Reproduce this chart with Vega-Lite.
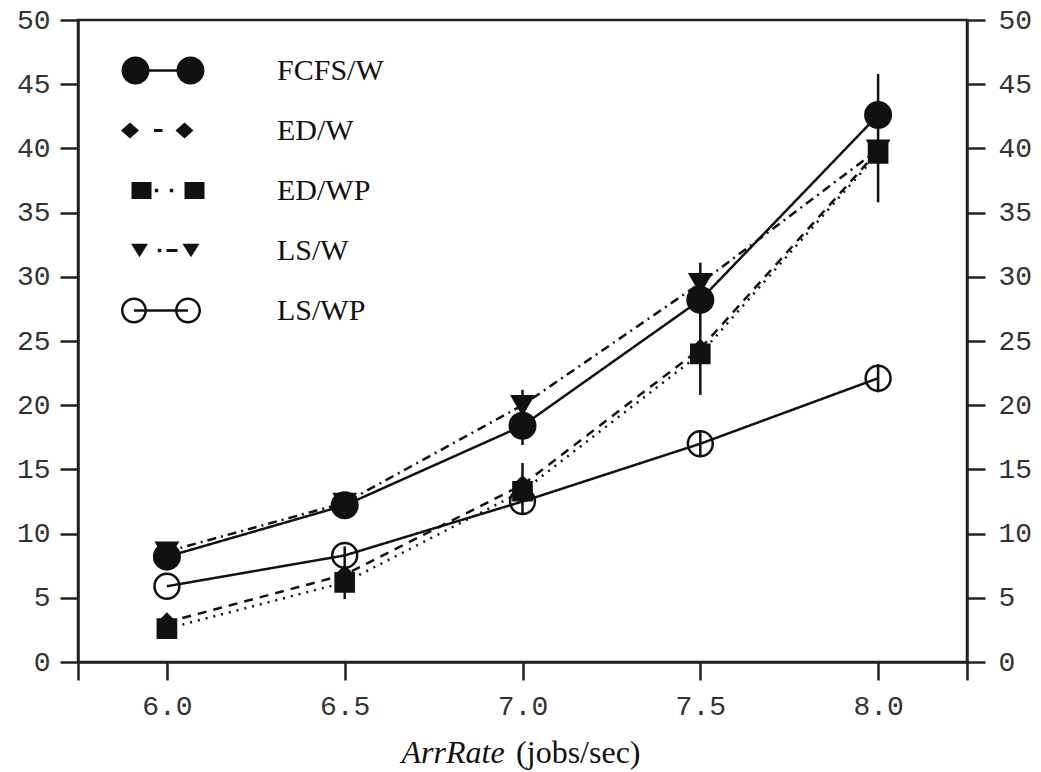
{
  "$schema": "https://vega.github.io/schema/vega-lite/v6.json",
  "width": 889,
  "height": 642,
  "autosize": {"type": "none"},
  "padding": {"left": 78, "top": 20, "right": 74, "bottom": 110},
  "background": "white",
  "config": {
    "view": {"stroke": "#222", "strokeWidth": 2.5},
    "axis": {
      "grid": false,
      "domainColor": "#222",
      "domainWidth": 2.5,
      "tickColor": "#222",
      "tickWidth": 2.5,
      "tickSize": 18,
      "labelFont": "Liberation Mono",
      "labelFontSize": 28,
      "labelColor": "#333"
    }
  },
  "datasets": {
    "pts": [
      {"series": "LS/W", "rate": 6.0, "delay": 8.6},
      {"series": "LS/W", "rate": 6.5, "delay": 12.4},
      {"series": "LS/W", "rate": 7.0, "delay": 20.0},
      {"series": "LS/W", "rate": 7.5, "delay": 29.5},
      {"series": "LS/W", "rate": 8.0, "delay": 39.9},
      {"series": "FCFS/W", "rate": 6.0, "delay": 8.2},
      {"series": "FCFS/W", "rate": 6.5, "delay": 12.2},
      {"series": "FCFS/W", "rate": 7.0, "delay": 18.4},
      {"series": "FCFS/W", "rate": 7.5, "delay": 28.2},
      {"series": "FCFS/W", "rate": 8.0, "delay": 42.6},
      {"series": "ED/W", "rate": 6.0, "delay": 3.1},
      {"series": "ED/W", "rate": 6.5, "delay": 6.8},
      {"series": "ED/W", "rate": 7.0, "delay": 13.8},
      {"series": "ED/W", "rate": 7.5, "delay": 24.4},
      {"series": "ED/W", "rate": 8.0, "delay": 39.8},
      {"series": "ED/WP", "rate": 6.0, "delay": 2.6},
      {"series": "ED/WP", "rate": 6.5, "delay": 6.2},
      {"series": "ED/WP", "rate": 7.0, "delay": 13.3},
      {"series": "ED/WP", "rate": 7.5, "delay": 24.0},
      {"series": "ED/WP", "rate": 8.0, "delay": 39.6},
      {"series": "LS/WP", "rate": 6.0, "delay": 5.9},
      {"series": "LS/WP", "rate": 6.5, "delay": 8.3},
      {"series": "LS/WP", "rate": 7.0, "delay": 12.5},
      {"series": "LS/WP", "rate": 7.5, "delay": 17.0},
      {"series": "LS/WP", "rate": 8.0, "delay": 22.1}
    ],
    "errs": [
      {"rate": 6.5, "lo": 4.9, "hi": 9.0},
      {"rate": 7.0, "lo": 16.9, "hi": 21.2},
      {"rate": 7.0, "lo": 11.6, "hi": 15.5},
      {"rate": 7.5, "lo": 20.8, "hi": 31.1},
      {"rate": 7.5, "lo": 16.0, "hi": 18.0},
      {"rate": 8.0, "lo": 35.8, "hi": 45.8},
      {"rate": 8.0, "lo": 21.0, "hi": 23.2}
    ]
  },
  "layer": [
    {
      "data": {"name": "errs"},
      "mark": {"type": "rule", "color": "#111", "strokeWidth": 2.5},
      "encoding": {
        "x": {
          "field": "rate", "type": "quantitative",
          "scale": {"domain": [5.75, 8.25], "nice": false, "zero": false},
          "axis": {
            "values": [5.75, 6, 6.5, 7, 7.5, 8, 8.25],
            "labelExpr": "datum.value == 5.75 || datum.value == 8.25 ? '' : format(datum.value, '.1f')",
            "labelPadding": 12,
            "title": "ArrRate",
            "titleFont": "Liberation Serif",
            "titleFontStyle": "italic",
            "titleFontWeight": "normal",
            "titleFontSize": 32,
            "titleColor": "#111",
            "titleAlign": "left",
            "titleAnchor": "start",
            "titleBaseline": "alphabetic",
            "titleAngle": 0,
            "titleX": 323,
            "titleY": 100
          }
        },
        "y": {
          "field": "lo", "type": "quantitative",
          "scale": {"domain": [0, 50], "nice": false, "zero": true},
          "axis": {
            "orient": "left",
            "values": [0, 5, 10, 15, 20, 25, 30, 35, 40, 45, 50],
            "labelPadding": 10,
            "title": null
          }
        },
        "y2": {"field": "hi"}
      }
    },
    {
      "data": {"name": "pts"},
      "mark": {"type": "line", "color": "#111", "strokeWidth": 2.5},
      "encoding": {
        "x": {"field": "rate", "type": "quantitative", "axis": null},
        "y": {
          "field": "delay", "type": "quantitative",
          "axis": {
            "orient": "right",
            "values": [0, 5, 10, 15, 20, 25, 30, 35, 40, 45, 50],
            "labelPadding": 13,
            "title": null
          }
        },
        "strokeDash": {
          "field": "series", "type": "nominal",
          "scale": {
            "domain": ["FCFS/W", "ED/W", "ED/WP", "LS/W", "LS/WP"],
            "range": [[1, 0], [9, 7], [2, 6], [9, 5, 2, 5], [1, 0]]
          },
          "legend": null
        }
      }
    },
    {
      "data": {"name": "pts"},
      "mark": {"type": "point", "stroke": "#111", "strokeWidth": 2.5, "opacity": 1},
      "encoding": {
        "x": {
          "field": "rate", "type": "quantitative",
          "axis": {
            "orient": "bottom",
            "labels": false,
            "ticks": false,
            "domain": false,
            "title": "(jobs/sec)",
            "titleFont": "Liberation Serif",
            "titleFontStyle": "normal",
            "titleFontWeight": "normal",
            "titleFontSize": 32,
            "titleColor": "#111",
            "titleAlign": "right",
            "titleAnchor": "end",
            "titleBaseline": "alphabetic",
            "titleAngle": 0,
            "titleX": 562,
            "titleY": 100
          }
        },
        "y": {"field": "delay", "type": "quantitative", "axis": null},
        "shape": {
          "field": "series", "type": "nominal",
          "scale": {
            "domain": ["FCFS/W", "ED/W", "ED/WP", "LS/W", "LS/WP"],
            "range": ["circle", "diamond", "square", "triangle-down", "circle"]
          },
          "legend": null
        },
        "fill": {
          "field": "series", "type": "nominal",
          "scale": {
            "domain": ["FCFS/W", "ED/W", "ED/WP", "LS/W", "LS/WP"],
            "range": ["#111", "#111", "#111", "#111", "transparent"]
          },
          "legend": null
        },
        "size": {
          "field": "series", "type": "nominal",
          "scale": {
            "type": "ordinal",
            "domain": ["FCFS/W", "ED/W", "ED/WP", "LS/W", "LS/WP"],
            "range": [650, 260, 330, 420, 620]
          },
          "legend": null
        }
      }
    },
    {
      "data": {"name": "pts"},
      "mark": {"type": "point", "filled": true, "color": "#111", "opacity": 0, "size": 7225},
      "encoding": {
        "x": {"field": "rate", "type": "quantitative", "axis": null},
        "y": {"field": "delay", "type": "quantitative", "axis": null},
        "shape": {
          "field": "series", "type": "nominal",
          "scale": {
            "domain": ["FCFS/W", "ED/W", "ED/WP", "LS/W", "LS/WP"],
            "range": [
              "M-0.964,0A0.329,0.329,0,1,1,-0.306,0A0.329,0.329,0,1,1,-0.964,0Z M0.33,0A0.329,0.329,0,1,1,0.988,0A0.329,0.329,0,1,1,0.33,0Z M-0.635,-0.03H0.659V0.03H-0.635Z",
              "M-0.765,-0.188L-0.553,0L-0.765,0.188L-0.977,0Z M0.518,-0.188L0.73,0L0.518,0.188L0.306,0Z M-0.2,-0.035H0V0.035H-0.2Z",
              "M-0.729,-0.2H-0.259V0.2H-0.729Z M0.518,-0.2H0.988V0.2H0.518Z M-0.181,-0.04H-0.101V0.04H-0.181Z M0.172,-0.04H0.252V0.04H0.172Z",
              "M-0.741,-0.16H-0.341L-0.541,0.16Z M0.47,-0.16H0.87L0.67,0.16Z M-0.11,-0.04H-0.03V0.04H-0.11Z M0.094,-0.035H0.353V0.035H0.094Z",
              "M-0.977,0A0.306,0.306,0,1,1,-0.365,0A0.306,0.306,0,1,1,-0.977,0Z M-0.918,0A0.247,0.247,0,1,0,-0.424,0A0.247,0.247,0,1,0,-0.918,0Z M0.294,0A0.306,0.306,0,1,1,0.906,0A0.306,0.306,0,1,1,0.294,0Z M0.353,0A0.247,0.247,0,1,0,0.847,0A0.247,0.247,0,1,0,0.353,0Z M-0.671,-0.03H0.6V0.03H-0.671Z"
            ]
          },
          "legend": {
            "orient": "none",
            "legendX": 42,
            "legendY": 8,
            "title": null,
            "symbolSize": 7225,
            "symbolOpacity": 1,
            "symbolFillColor": "#111",
            "symbolStrokeWidth": 0,
            "symbolStrokeColor": "transparent",
            "labelFont": "Liberation Serif",
            "labelFontSize": 30,
            "labelColor": "#111",
            "labelOffset": 72,
            "rowPadding": 2
          }
        }
      }
    }
  ],
  "resolve": {
    "scale": {"shape": "independent"},
    "axis": {"x": "independent", "y": "independent"},
    "legend": {"shape": "independent"}
  }
}
